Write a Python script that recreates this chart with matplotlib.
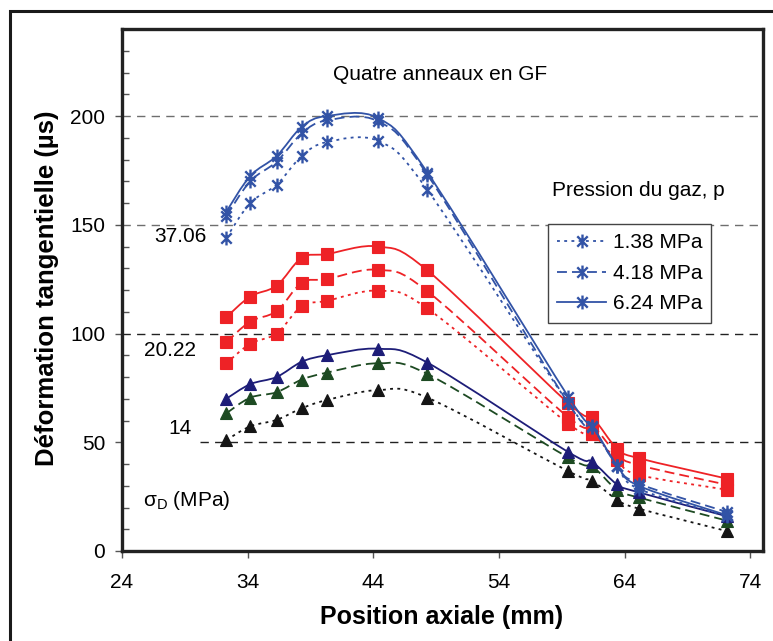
import numpy as np
import matplotlib
matplotlib.use("Agg")
import matplotlib.pyplot as plt
from matplotlib.path import Path
from matplotlib.patches import PathPatch, Rectangle
from matplotlib.lines import Line2D

plt.rcParams['font.family'] = ['Liberation Sans', 'DejaVu Sans']
plt.rcParams['mathtext.fontset'] = 'custom'
plt.rcParams['mathtext.rm'] = 'Liberation Sans'
plt.rcParams['mathtext.it'] = 'Liberation Sans:italic'

# positions axiales (mm)
pos = [32.3, 34.2, 36.3, 38.3, 40.3, 44.4, 48.3, 59.5, 61.4, 63.4, 65.1, 72.1]

# sigma_D = 37.06 MPa (étoiles)
s37_p138 = [144, 160, 168.4, 181.6, 188, 188.5, 166, 68, 57, 39, 28.6, 16]
s37_p418 = [154, 170, 179, 192, 198, 197.5, 173, 68, 57, 39, 31, 18]
s37_p624 = [156, 172.4, 181.6, 195, 200, 199, 174, 71, 57.7, 39.3, 30, 16.5]

# sigma_D = 20.22 MPa (carrés)
s20_p138 = [86.3, 95.3, 100, 112.6, 115, 119.7, 111.5, 58.6, 54, 41.7, 35, 28.2]
s20_p418 = [96, 105.5, 110.3, 123.3, 125, 129.3, 119.4, 61.5, 57.7, 44.5, 39.5, 30.5]
s20_p624 = [107.5, 117, 122, 134.8, 136.5, 140, 129, 68, 61.5, 47, 42.7, 33.3]

# sigma_D = 14 MPa (triangles)
s14_p138 = [51, 57.3, 60.3, 65.6, 69.4, 74, 70.5, 36.7, 32.3, 23.5, 19.5, 9.2]
s14_p418 = [63.3, 70.5, 73, 78.8, 82, 86.3, 81.4, 43, 39, 28, 24.6, 14]
s14_p624 = [70, 76.7, 80, 87, 90, 93, 86.6, 45.5, 41, 30.6, 27, 16]

pressures = ['1.38 MPa', '4.18 MPa', '6.24 MPa']
sigma_labels = ['37.06', '20.22', '14']


def smooth_path(x, y):
    # courbe lissée façon Excel (Bézier, tension 1/6)
    p = np.column_stack([x, y]).astype(float)
    n = len(p)
    verts = [p[0]]
    codes = [Path.MOVETO]
    for i in range(n - 1):
        p0 = p[i - 1] if i > 0 else p[i]
        p3 = p[i + 2] if i + 2 < n else p[i + 1]
        c1 = p[i] + (p[i + 1] - p0) / 6.0
        c2 = p[i + 1] - (p3 - p[i]) / 6.0
        verts += [c1, c2, p[i + 1]]
        codes += [Path.CURVE4] * 3
    return Path(verts, codes)


dotted = (0, (1.6, 2.4))
dashed = (0, (5.5, 2.8))
solid = '-'

star = Path([(0, -1), (0, 1), (-0.75, -0.75), (0.75, 0.75), (-0.75, 0.75), (0.75, -0.75)],
            [Path.MOVETO, Path.LINETO, Path.MOVETO, Path.LINETO, Path.MOVETO, Path.LINETO])

blue = '#3253a6'
red = '#ee2226'
navy = '#1d1d78'
green = '#1d4a22'
black = '#151515'

fig = plt.figure(figsize=(7.73, 6.41), dpi=100)
ax = fig.add_axes([122 / 773, 1 - 551 / 641, (763 - 122) / 773, (551 - 29) / 641])

# cadre extérieur
fig.add_artist(Rectangle((10 / 773, -0.05), 1.0, 1 - 11 / 641 + 0.05, transform=fig.transFigure,
                         fill=False, edgecolor='#1a1a1a', linewidth=2.2))

ax.set_xlim(24, 75)
ax.set_ylim(0, 240)
ax.set_xticks([24, 34, 44, 54, 64, 74])
ax.set_yticks([0, 50, 100, 150, 200])
ax.set_yticks(np.arange(10, 240, 10), minor=True)

# lignes horizontales
ax.axhline(200, color='#6e6e6e', lw=1.0, ls=(0, (6, 4.5)), zorder=1)
ax.axhline(150, color='#6e6e6e', lw=1.0, ls=(0, (6, 4.5)), zorder=1)
ax.axhline(100, color='#222222', lw=1.0, ls=(0, (6, 4.5)), zorder=1)
ax.plot([30.2, 75], [50, 50], color='#222222', lw=1.0, ls=(0, (6, 4.5)), zorder=1)

groups = [
    (s14_p138, s14_p418, s14_p624, [black, green, navy], '^', 8.2),
    (s20_p138, s20_p418, s20_p624, [red, red, red], 's', 8.0),
    (s37_p138, s37_p418, s37_p624, [blue, blue, blue], star, 10),
]
styles = [dotted, dashed, solid]

z = 2
for ys138, ys418, ys624, cols, mk, ms in groups:
    for ys, col, st in zip([ys138, ys418, ys624], cols, styles):
        ax.add_patch(PathPatch(smooth_path(pos, ys), fill=False, edgecolor=col,
                               linewidth=1.3, linestyle=st, zorder=z))
        if mk is star:
            ax.plot(pos, ys, ls='none', marker=mk, ms=ms, mec=col, mfc='none', mew=1.7, zorder=z + 1)
        else:
            ax.plot(pos, ys, ls='none', marker=mk, ms=ms, mec=col, mfc=col, mew=0.8, zorder=z + 1)
    z += 2

handles = [Line2D([], [], color=blue, lw=1.3, ls=st, marker=star, ms=10, mec=blue,
                  mfc='none', mew=1.7) for st in styles]
fig.legend(handles, pressures, loc='upper left', bbox_to_anchor=(548 / 773, 1 - 224 / 641),
           borderaxespad=0, fancybox=False, edgecolor='#444444', framealpha=1, fontsize=15,
           handlelength=2.35, handletextpad=0.3, labelspacing=0.55, borderpad=0.45)

for sp in ax.spines.values():
    sp.set_linewidth(2.4)
    sp.set_color('#222222')

ax.tick_params(axis='y', which='major', direction='out', length=5, width=1, color='#555555',
               labelsize=15, pad=7)
ax.tick_params(axis='y', which='minor', direction='in', length=5, width=1, color='#555555')
ax.tick_params(axis='x', which='major', direction='out', length=5, width=1, color='#555555',
               labelsize=15, pad=11)

fig.text(440 / 773, 1 - 74 / 641, 'Quatre anneaux en GF', fontsize=15, ha='center', va='center')
fig.text(552 / 773, 1 - 190 / 641, 'Pression du gaz, p', fontsize=15, ha='left', va='center')
fig.text(207 / 773, 1 - 236 / 641, sigma_labels[0], fontsize=15, ha='right', va='center')
fig.text(196 / 773, 1 - 350 / 641, sigma_labels[1], fontsize=15, ha='right', va='center')
fig.text(192 / 773, 1 - 428 / 641, sigma_labels[2], fontsize=15, ha='right', va='center')
fig.text(143 / 773, 1 - 501 / 641, r'$\mathrm{\sigma_D}$ (MPa)', fontsize=15, ha='left', va='center')

fig.text(47 / 773, 1 - 288 / 641, 'Déformation tangentielle (µs)', fontsize=18.5, fontweight='bold',
         rotation=90, ha='center', va='center')
fig.text(442 / 773, 1 - 617 / 641, 'Position axiale (mm)', fontsize=18, fontweight='bold',
         ha='center', va='center')

fig.savefig('out.png', dpi=100)
